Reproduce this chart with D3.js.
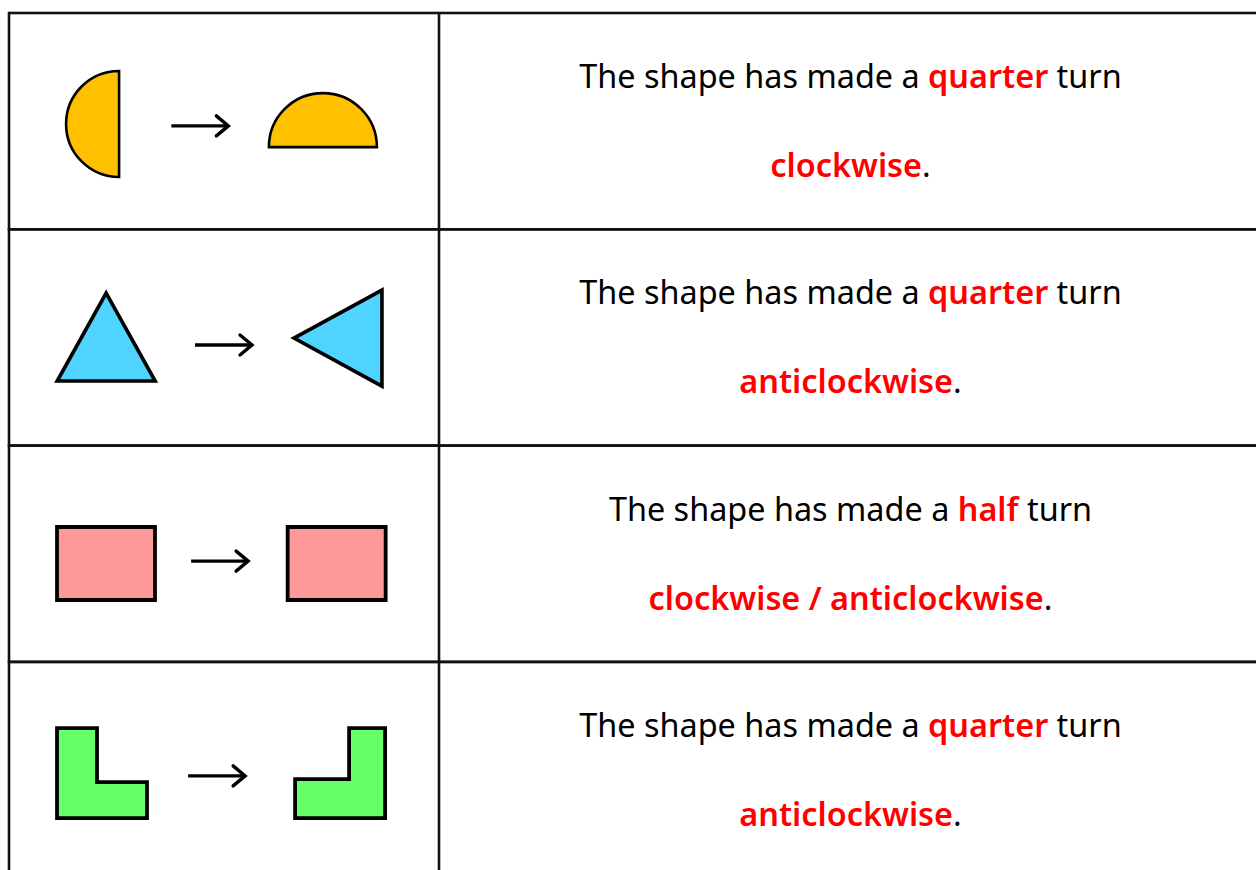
<!DOCTYPE html>
<html>
<head>
<meta charset="utf-8">
<script src="https://cdn.jsdelivr.net/npm/d3@7"></script>
<style>
html,body{margin:0;padding:0;background:#fff;overflow:hidden;}
svg{display:block;}
</style>
</head>
<body>
<script>
// ---- data ----
const rows = [0, 1, 2, 3];
const shapes = ["semicircle", "triangle", "rectangle", "lshape"];
const amounts = ["quarter", "quarter", "half", "quarter"];
const directions = ["clockwise", "anticlockwise", "clockwise / anticlockwise", "anticlockwise"];
const sentenceStart = "The shape has made a ";
const sentenceEnd = " turn";

const W = 1256, H = 870;
const fills = {semicircle: "#FFC000", triangle: "#4FD3FF", rectangle: "#FF9999", lshape: "#66FF66"};
const strokeW = {semicircle: 2.6, triangle: 3.6, rectangle: 3.8, lshape: 3.8};

const svg = d3.select("body").append("svg").attr("width", W).attr("height", H);

const y = d3.scaleBand().domain(rows).range([13, 13 + 4 * 216.3]);
const x = d3.scaleLinear().domain([0, 1]).range([9, 439]); // left column
const xr = d3.scaleLinear().domain([0, 1]).range([439, 1264]); // right column

// table grid
const grid = svg.append("g").attr("stroke", "#111").attr("stroke-width", 2.6).attr("fill", "none");
rows.forEach(r => {
  grid.append("rect").attr("x", x(0)).attr("y", y(r)).attr("width", xr(1) - x(0)).attr("height", y.bandwidth());
});
grid.append("line").attr("x1", x(1)).attr("x2", x(1)).attr("y1", y(0)).attr("y2", H + 10);

const line = d3.line();

function drawShape(g, kind, turned) {
  const s = g.append("path").attr("fill", fills[kind]).attr("stroke", "#000")
    .attr("stroke-width", strokeW[kind]).attr("stroke-linejoin", "miter");
  let d;
  if (kind === "semicircle") {
    const p = d3.path();
    if (!turned) { // flat edge on right
      p.moveTo(0, -53); p.arc(0, 0, 53, -Math.PI / 2, Math.PI / 2, true); p.closePath();
    } else { // flat edge on bottom
      p.moveTo(-54, 0); p.arc(0, 0, 54, Math.PI, 0, false); p.closePath();
    }
    d = p.toString();
  } else if (kind === "triangle") {
    d = !turned ? line([[0, -44], [49, 44], [-49, 44]]) + "Z"
                : line([[-44, 0], [44, -48], [44, 48]]) + "Z";
  } else if (kind === "rectangle") {
    d = line([[-49, -36.5], [49, -36.5], [49, 36.5], [-49, 36.5]]) + "Z";
  } else {
    d = !turned ? line([[-45, -45], [-5, -45], [-5, 9], [45, 9], [45, 45], [-45, 45]]) + "Z"
                : line([[45, -45], [45, 45], [-45, 45], [-45, 6], [9, 6], [9, -45]]) + "Z";
  }
  s.attr("d", d);
}

function drawArrow(g) {
  g.append("path").attr("d", line([[-29, 0], [28, 0]])).attr("stroke", "#000").attr("stroke-width", 3.4).attr("fill", "none");
  g.append("path").attr("d", line([[16, -10], [28, 0], [16, 10]])).attr("stroke", "#000").attr("stroke-width", 3.4)
    .attr("fill", "none").attr("stroke-linecap", "round").attr("stroke-linejoin", "miter");
}

// per-row placement of left shape, arrow, right shape (fractions of the left cell)
const leftPos = [[0.256, 0.513], [0.226, 0.498], [0.2256, 0.545], [0.2163, 0.514]];
const arrowPos = [[0.445, 0.522], [0.500, 0.535], [0.491, 0.534], [0.484, 0.527]];
const rightPos = [[0.730, 0.620], [0.765, 0.503], [0.762, 0.545], [0.770, 0.514]];

rows.forEach(r => {
  const top = y(r), h = y.bandwidth();
  const gl = svg.append("g").attr("transform", `translate(${x(leftPos[r][0])},${top + h * leftPos[r][1]})`);
  drawShape(gl, shapes[r], false);
  const ga = svg.append("g").attr("transform", `translate(${x(arrowPos[r][0])},${top + h * arrowPos[r][1]})`);
  drawArrow(ga);
  const gr = svg.append("g").attr("transform", `translate(${x(rightPos[r][0])},${top + h * rightPos[r][1]})`);
  drawShape(gr, shapes[r], true);

  const cx = (x(1) + 1264) / 2 - 1;
  const font = "'Noto Sans', 'Open Sans', sans-serif";
  const fs = 32.4;
  const t1 = svg.append("text").attr("x", cx).attr("y", top + 75).attr("text-anchor", "middle")
    .attr("font-family", font).attr("font-size", fs).attr("fill", "#000");
  t1.append("tspan").text(sentenceStart);
  t1.append("tspan").attr("fill", "#FF0000").attr("font-weight", 600).text(amounts[r]);
  t1.append("tspan").text(sentenceEnd);
  const t2 = svg.append("text").attr("x", cx).attr("y", top + 164).attr("text-anchor", "middle")
    .attr("font-family", font).attr("font-size", fs).attr("fill", "#000");
  t2.append("tspan").attr("fill", "#FF0000").attr("font-weight", 600).text(directions[r]);
  t2.append("tspan").text(".");
});
</script>
</body>
</html>
